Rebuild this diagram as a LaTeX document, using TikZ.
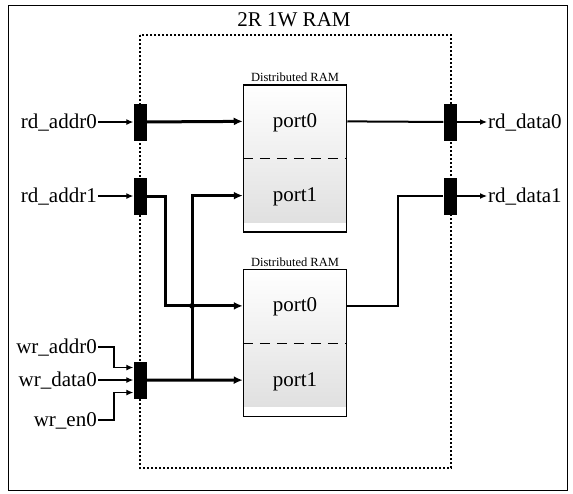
\documentclass[tikz,border=0pt]{standalone}
\usepackage{fontspec}
\setmainfont{Liberation Serif}
\usetikzlibrary{arrows,arrows.meta,shapes,calc,positioning}

\begin{document}
\begin{tikzpicture}[x=1pt,y=-1pt]
\tikzstyle{reg}=[rectangle, fill=black, minimum width=13pt, minimum height=37pt, inner sep=0pt]
\tikzstyle{ram}=[rectangle, draw=black, line width=1.5pt, minimum width=103pt, minimum height=147pt, inner sep=0pt,
  path picture={\shade[top color=white, bottom color=black!13] (path picture bounding box.north west) rectangle ([yshift=10pt]path picture bounding box.south east);}]
\tikzstyle{big}=[font=\fontsize{21}{24}\selectfont, text height=14pt, text depth=2pt, inner sep=1pt]
\tikzstyle{small}=[font=\fontsize{12.5}{14}\selectfont, inner sep=1pt]
\tikzstyle{connect}=[-{Latex[length=7pt,width=6pt]}, line width=1.2pt]
\tikzstyle{bus}=[-{Latex[length=9pt,width=8pt]}, line width=3pt]
\tikzstyle{wire}=[line width=2pt]
\tikzstyle{dots}=[line width=1.5pt, dash pattern=on 2pt off 2pt]

  \useasboundingbox (0,0) rectangle (573,493);
  \draw[line width=1pt] (8,5) rectangle (567,490);
  \node[big, anchor=base] (title) at (294,26) {2R 1W RAM};
  \draw[dots] (140,35) rectangle (451,468);

  % distributed rams
  \node[ram] (ram1) at (295,158.5) {};
  \node[ram] (ram2) at (295,343) {};
  \node[small, above=1pt of ram1] (lab1) {Distributed RAM};
  \node[small, above=1pt of ram2] (lab2) {Distributed RAM};
  \draw[line width=1pt, dash pattern=on 10pt off 7pt] (ram1.west) -- (ram1.east);
  \draw[line width=1pt, dash pattern=on 10pt off 7pt] (ram2.west) -- (ram2.east);

  \coordinate (r1p0) at ($(ram1.north west)!0.25!(ram1.south west)$);
  \coordinate (r1p1) at ($(ram1.north west)!0.75!(ram1.south west)$);
  \coordinate (r2p0) at ($(ram2.north west)!0.25!(ram2.south west)$);
  \coordinate (r2p1) at ($(ram2.north west)!0.75!(ram2.south west)$);
  \coordinate (r1q0) at ($(ram1.north east)!0.25!(ram1.south east)$);
  \coordinate (r2q0) at ($(ram2.north east)!0.25!(ram2.south east)$);
  \node[big] (p10) at ($(r1p0)!0.5!(r1q0)$) {port0};
  \node[big] (p11) at ($(ram1.center)+(0,37)$) {port1};
  \node[big] (p20) at ($(r2p0)!0.5!(r2q0)$) {port0};
  \node[big] (p21) at ($(ram2.center)+(0,37)$) {port1};

  % registers
  \node[reg] (ra0) at (140,122) {};
  \node[reg] (ra1) at (140,196) {};
  \node[reg] (rw)  at (140,380) {};
  \node[reg] (rd0) at (450,122) {};
  \node[reg] (rd1) at (450,196) {};

  % ports
  \node[big, anchor=east] (ia0) at (98,122) {rd\_addr0};
  \node[big, anchor=east] (ia1) at (98,196) {rd\_addr1};
  \node[big, anchor=east] (iwa) at (98,347) {wr\_addr0};
  \node[big, anchor=east] (iwd) at (98,380) {wr\_data0};
  \node[big, anchor=east] (iwe) at (98,420) {wr\_en0};
  \node[big, anchor=west] (od0) at (487,122) {rd\_data0};
  \node[big, anchor=west] (od1) at (487,196) {rd\_data1};

  \draw[connect] (ia0) -- (ra0);
  \draw[connect] (ia1) -- (ra1);
  \draw[connect] (iwa.east) -- ++(16,0) |- ([yshift=12.5pt]rw.west);
  \draw[connect] (iwd) -- (rw);
  \draw[connect] (iwe.east) -- ++(16,0) |- ([yshift=-12.5pt]rw.west);

  \draw[bus] (ra0) -- (r1p0);
  \draw[bus] (ra1.east) -- ++(18.5,0) |- (r2p0);
  \coordinate (wbr) at (192,380);
  \draw[bus] (rw) -- (r2p1);
  \draw[bus] (wbr) |- (r1p1);
  \fill (wbr |- r2p0) circle (2.8pt);

  \draw[wire] (r1q0) -- (rd0);
  \draw[wire] (r2q0) -- ++(51,0) |- (rd1);
  \draw[connect] (rd0) -- (od0);
  \draw[connect] (rd1) -- (od1);

\end{tikzpicture}
\end{document}
